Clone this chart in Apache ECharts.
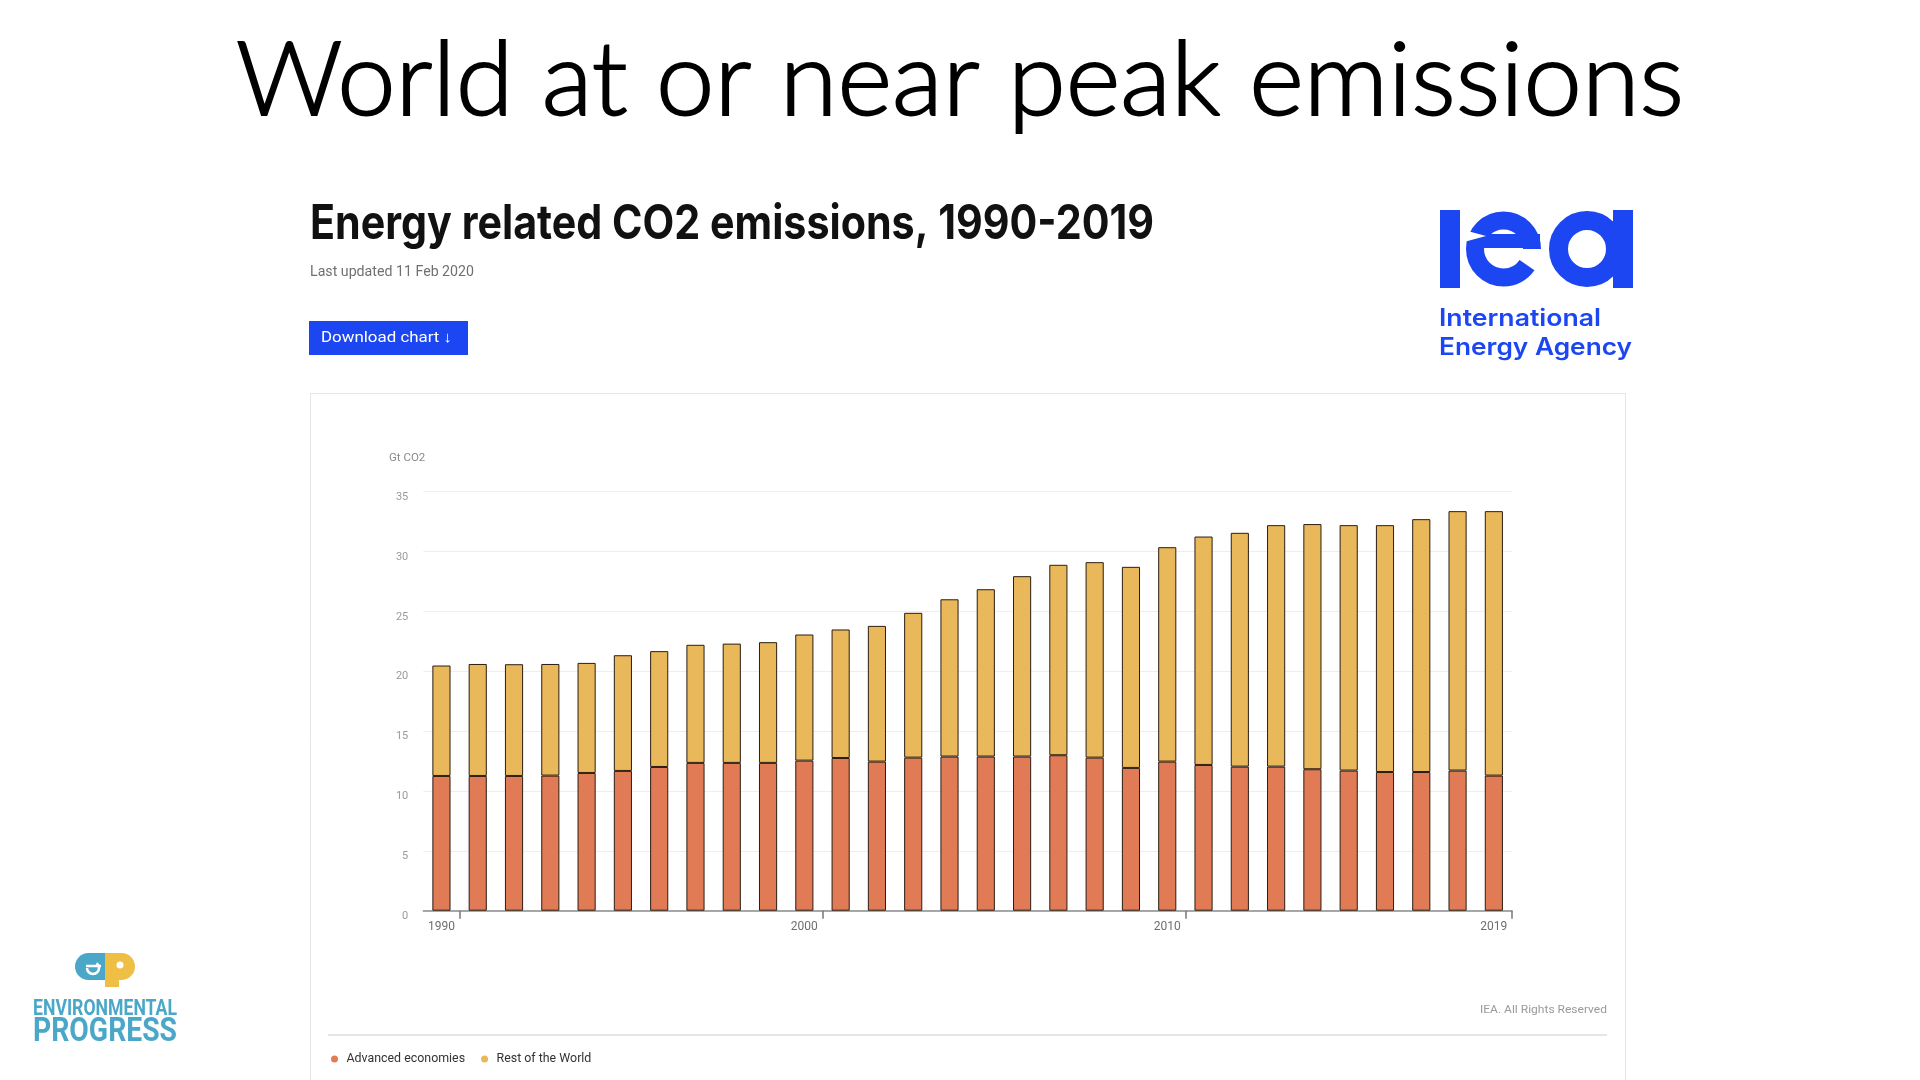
<!DOCTYPE html>
<html><head><meta charset="utf-8">
<script src="https://cdn.jsdelivr.net/npm/echarts@6/dist/echarts.min.js"></script>
<style>html,body{margin:0;padding:0;background:#fff}#c{width:1920px;height:1080px}</style>
</head><body><div id="c"></div>
<script>
// ---------- data ----------
const years = ['1990','1991','1992','1993','1994','1995','1996','1997','1998','1999',
  '2000','2001','2002','2003','2004','2005','2006','2007','2008','2009',
  '2010','2011','2012','2013','2014','2015','2016','2017','2018','2019'];
const advancedEconomies = [11.25, 11.25, 11.25, 11.28, 11.5, 11.67, 12.0, 12.34, 12.34, 12.34,
  12.53, 12.75, 12.45, 12.78, 12.87, 12.87, 12.87, 12.98, 12.78, 11.92,
  12.45, 12.17, 12.03, 12.03, 11.81, 11.7, 11.58, 11.58, 11.7, 11.28];
const restOfWorld = [9.22, 9.35, 9.33, 9.32, 9.19, 9.66, 9.67, 9.86, 9.96, 10.08,
  10.53, 10.73, 11.33, 12.09, 13.13, 13.97, 15.06, 15.9, 16.32, 16.79,
  17.9, 19.07, 19.52, 20.16, 20.47, 20.49, 20.61, 21.11, 21.66, 22.08];
const seriesNames = ['Advanced economies', 'Rest of the World'];
const labelYears = ['1990', '2000', '2010', '2019'];
const tickAfterYears = ['1990', '2000', '2010'];
const yMin = 0, yMax = 35, yStep = 5;

// ---------- styles ----------
const ORANGE = '#e07b56', YELLOW = '#e9b85a', BLUE = '#1c46f2', EPBLUE = '#4aa7c7', EPYEL = '#efbf45';

const mctx = document.createElement('canvas').getContext('2d');
function txt(o) {
  const weight = o.weight || 400;
  mctx.font = weight + ' ' + o.size + 'px ' + o.family;
  const w = mctx.measureText(o.text).width;
  const sx = o.width ? o.width / w : 1;
  const style = {
    text: o.text, x: 0, y: 0, fill: o.fill,
    fontSize: o.size, fontWeight: weight, fontFamily: o.family,
    align: o.align || 'left', textAlign: o.align || 'left',
    verticalAlign: 'middle', textVerticalAlign: 'middle'
  };
  if (o.stroke) { style.stroke = o.stroke; style.lineWidth = o.strokeWidth; }
  return {type: 'text', x: o.x, y: o.y, scaleX: sx, silent: true, z: 10, style: style};
}

const chart = echarts.init(document.getElementById('c'), null, {renderer: 'canvas'});

const graphics = [
  // panel
  {type: 'rect', shape: {x: 310.5, y: 393.5, width: 1315, height: 720}, style: {fill: 'none', stroke: '#e6e6e6', lineWidth: 1}, silent: true, z: 0},
  // separator
  {type: 'line', shape: {x1: 328, y1: 1035, x2: 1607, y2: 1035}, style: {stroke: '#e6e6e6', lineWidth: 2}, silent: true},
  txt({text: 'World at or near peak emissions', x: 960, y: 82, size: 102, weight: 300, family: 'Lato', fill: '#000', stroke: '#000', strokeWidth: 1.8, align: 'center', width: 1448}),
  txt({text: 'Energy related CO2 emissions, 1990-2019', x: 310, y: 225, size: 48, weight: 700, family: 'Inter', fill: '#111', width: 844}),
  txt({text: 'Last updated 11 Feb 2020', x: 310, y: 272, size: 14, family: 'Roboto', fill: '#707070', width: 164}),
  {type: 'rect', shape: {x: 309, y: 321, width: 159, height: 34}, style: {fill: BLUE}, silent: true},
  txt({text: 'Download chart \u2193', x: 321, y: 338, size: 15, family: 'Roboto', fill: '#fff', width: 131}),
  txt({text: 'IEA. All Rights Reserved', x: 1607, y: 1010, size: 11, family: 'Roboto', fill: '#9a9a9a', align: 'right', width: 127}),
  // IEA logo
  {type: 'rect', shape: {x: 1440, y: 210, width: 20, height: 78}, style: {fill: BLUE}, silent: true},
  {type: 'arc', shape: {cx: 1503.5, cy: 249, r: 28.5, startAngle: 0, endAngle: 0.6, clockwise: false}, style: {stroke: BLUE, lineWidth: 18, fill: 'none', lineCap: 'butt'}, silent: true},
  {type: 'rect', shape: {x: 1472, y: 234, width: 68, height: 14}, style: {fill: BLUE}, silent: true},
  {type: 'polygon', shape: {points: [[1464, 230], [1464, 242], [1486, 236]]}, style: {fill: '#fff'}, silent: true},
  {type: 'arc', shape: {cx: 1587, cy: 249, r: 28.5, startAngle: 0, endAngle: Math.PI * 2}, style: {stroke: BLUE, lineWidth: 19, fill: 'none'}, silent: true},
  {type: 'rect', shape: {x: 1613, y: 210, width: 20, height: 78}, style: {fill: BLUE}, silent: true},
  txt({text: 'International', x: 1439, y: 318.5, size: 24, weight: 600, family: 'Inter', fill: BLUE, width: 162}),
  txt({text: 'Energy Agency', x: 1439, y: 347.5, size: 24, weight: 600, family: 'Inter', fill: BLUE, width: 193}),
  // EP logo
  {type: 'rect', shape: {x: 75, y: 953, width: 33, height: 27, r: [13.5, 0, 0, 13.5]}, style: {fill: EPBLUE}, silent: true},
  {type: 'rect', shape: {x: 105, y: 953, width: 30, height: 27, r: [0, 13.5, 13.5, 0]}, style: {fill: EPYEL}, silent: true},
  {type: 'rect', shape: {x: 105, y: 975, width: 14, height: 12}, style: {fill: EPYEL}, silent: true},
  {type: 'line', shape: {x1: 86, y1: 966, x2: 101, y2: 966}, style: {stroke: '#fff', lineWidth: 2.5}, silent: true},
  {type: 'arc', shape: {cx: 93, cy: 968, r: 6, startAngle: Math.PI, endAngle: Math.PI * 1.7, clockwise: false}, style: {stroke: '#fff', lineWidth: 2.5, fill: 'none'}, silent: true},
  {type: 'circle', shape: {cx: 120, cy: 965, r: 3.5}, style: {fill: '#fff'}, silent: true},
  txt({text: 'ENVIRONMENTAL', x: 33, y: 1009, size: 22, weight: 700, family: 'Roboto', fill: EPBLUE, width: 144}),
  txt({text: 'PROGRESS', x: 33, y: 1032.5, size: 34, weight: 700, family: 'Roboto', fill: EPBLUE, width: 144})
];

const option = {
  backgroundColor: '#ffffff',
  animation: false,
  textStyle: {fontFamily: 'Roboto'},
  grid: {left: 423.3, right: 408, top: 491.5, bottom: 169.3, containLabel: false},
  legend: {
    data: seriesNames, left: 326, top: 1048, icon: 'circle', itemWidth: 14, itemHeight: 7, itemGap: 16,
    itemStyle: {borderWidth: 0},
    textStyle: {fontSize: 12.4, color: '#333', fontFamily: 'Roboto'}, selectedMode: false
  },
  xAxis: {
    type: 'category', data: years, boundaryGap: true,
    axisLine: {show: true, lineStyle: {color: '#8c8c8c', width: 1.5}},
    axisTick: {show: true, alignWithLabel: false, length: 8, lineStyle: {color: '#777', width: 1.5},
      interval: function (idx) { return idx > 0 && tickAfterYears.indexOf(years[idx - 1]) >= 0; }},
    axisLabel: {color: '#6e6e6e', fontSize: 12, margin: 10, fontFamily: 'Roboto',
      interval: function (idx, val) { return labelYears.indexOf(val) >= 0; }},
    splitLine: {show: false}
  },
  yAxis: {
    type: 'value', min: yMin, max: yMax, interval: yStep,
    name: 'Gt CO2', nameLocation: 'end', nameGap: 33,
    nameTextStyle: {color: '#8a8a8a', fontSize: 11.5, align: 'right', verticalAlign: 'middle', padding: [0, -2, 0, 0], fontFamily: 'Roboto'},
    axisLine: {show: false}, axisTick: {show: false},
    axisLabel: {color: '#9a9a9a', fontSize: 11, margin: 15, verticalAlign: 'top', lineHeight: 11, fontFamily: 'Roboto'},
    splitLine: {lineStyle: {color: '#eeeeee', width: 1}}
  },
  series: [
    {name: seriesNames[0], type: 'bar', stack: 'total', data: advancedEconomies, barWidth: '50%',
      itemStyle: {color: ORANGE, borderColor: '#2b1d12', borderWidth: 1}},
    {name: seriesNames[1], type: 'bar', stack: 'total', data: restOfWorld, barWidth: '50%',
      itemStyle: {color: YELLOW, borderColor: '#2b1d12', borderWidth: 1}}
  ],
  graphic: graphics
};
chart.setOption(option);
</script></body></html>
